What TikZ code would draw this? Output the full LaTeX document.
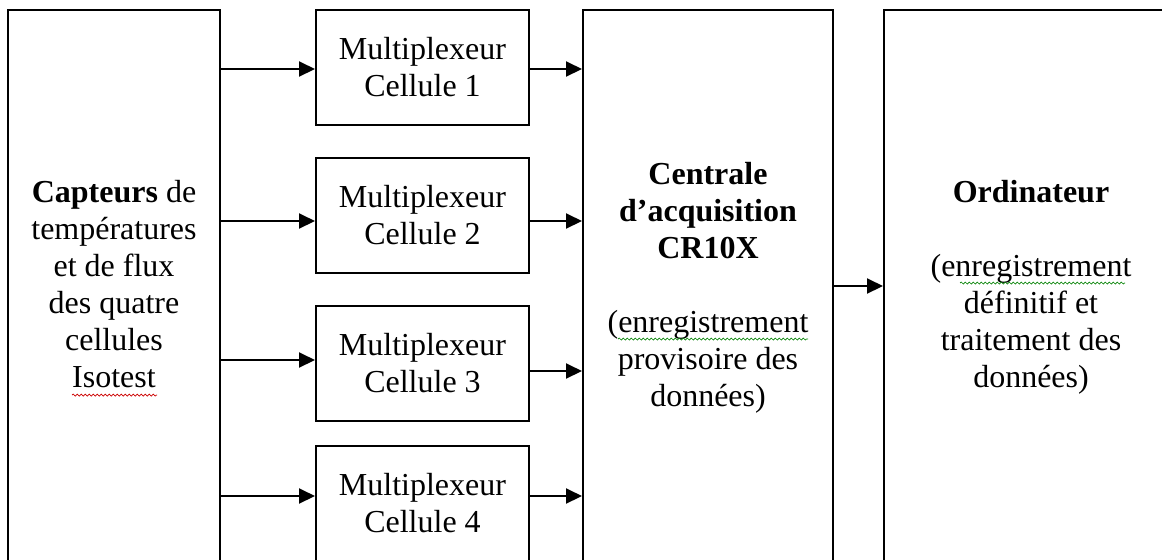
\documentclass[tikz,border=0pt]{standalone}
\usepackage{fontspec}
\setmainfont{Liberation Serif}
\usetikzlibrary{arrows.meta,decorations.pathmorphing}
\begin{document}
\begin{tikzpicture}[x=0.5pt,y=-0.5pt,
  box/.style={draw=black,line width=1pt,rectangle,inner sep=0pt},
  mux/.style={box,minimum width=106.5pt,minimum height=57.5pt,align=center,
    font=\fontsize{16}{18.5}\selectfont},
  txt/.style={align=center,inner sep=0pt,font=\fontsize{16}{18.5}\selectfont},
  arr/.style={line width=1pt,-{Triangle[length=8pt,width=7.5pt]}},
  squig/.style={line width=0.35pt,decorate,decoration={snake,amplitude=0.5pt,segment length=2pt}}]
\useasboundingbox (0,0) rectangle (1162,559);
\clip (0,0) rectangle (1162,559);
% big boxes
\node[box,minimum width=106pt,minimum height=295pt] (capt) at (114,305) {};
\node[box,minimum width=125pt,minimum height=295pt] (cent) at (708,305) {};
\node[box,minimum width=148pt,minimum height=295pt] (ordi) at (1032,305) {};
% multiplexers
\node[mux] (m1) at (422.5,67.5) {Multiplexeur\\Cellule 1};
\node[mux] (m2) at (422.5,215.5) {Multiplexeur\\Cellule 2};
\node[mux] (m3) at (422.5,363.5) {Multiplexeur\\Cellule 3};
\node[mux] (m4) at (422.5,503.5) {Multiplexeur\\Cellule 4};
% texts
\node[txt] (capttxt) at (114,284) {\textbf{Capteurs} de\\températures\\et de flux\\des quatre\\cellules\\Isotest};
\node[txt] (centtxt) at (708,288) {\textbf{Centrale}\\\textbf{d’acquisition}\\\textbf{CR10X}\\[18.5pt](enregistrement\\provisoire des\\données)};
\node[txt] (orditxt) at (1031,287.5) {\textbf{Ordinateur}\\[18.5pt](enregistrement\\définitif et\\traitement des\\données)};
% arrows
\draw[arr] (capt.east |- 0,69) -- (m1.west |- 0,69);
\draw[arr] (capt.east |- 0,221) -- (m2.west |- 0,221);
\draw[arr] (capt.east |- 0,360) -- (m3.west |- 0,360);
\draw[arr] (capt.east |- 0,496) -- (m4.west |- 0,496);
\draw[arr] (m1.east |- 0,69) -- (cent.west |- 0,69);
\draw[arr] (m2.east |- 0,221) -- (cent.west |- 0,221);
\draw[arr] (m3.east |- 0,371) -- (cent.west |- 0,371);
\draw[arr] (m4.east |- 0,496) -- (cent.west |- 0,496);
\draw[arr] (cent.east |- 0,286) -- (ordi.west |- 0,286);
% spell-check squiggles
\draw[squig,red!80!black] (72,395) -- (157,395);
\draw[squig,green!50!black] (618,339) -- (808,339);
\draw[squig,green!50!black] (960,283) -- (1125,283);
\end{tikzpicture}
\end{document}
